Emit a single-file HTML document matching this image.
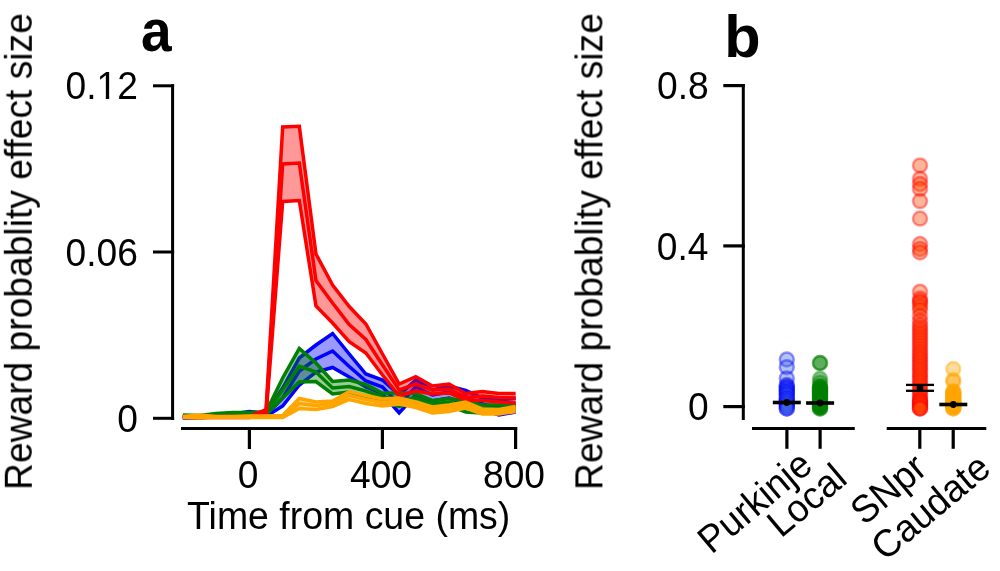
<!DOCTYPE html>
<html><head><meta charset="utf-8"><style>html,body{margin:0;padding:0;background:#fff;width:1000px;height:571px;overflow:hidden}body{position:relative}</style></head><body>
<svg width="1000" height="571" viewBox="0 0 1000 571" style="position:absolute;left:0;top:0">
<rect width="1000" height="571" fill="#fff"/>
<polygon points="182.85,417.00 199.49,417.00 216.12,414.50 232.76,414.00 249.40,411.50 266.04,413.50 282.68,388.00 299.31,358.00 315.95,345.00 332.59,333.50 349.23,354.00 365.86,374.00 382.50,380.00 399.14,395.00 415.77,380.00 432.41,390.00 449.05,386.00 465.69,390.50 482.32,398.00 498.96,400.00 515.60,398.00 515.60,412.00 498.96,415.00 482.32,410.00 465.69,404.00 449.05,398.00 432.41,401.00 415.77,395.00 399.14,413.00 382.50,394.00 365.86,387.00 349.23,377.00 332.59,367.50 315.95,372.00 299.31,385.00 282.68,406.00 266.04,416.50 249.40,414.50 232.76,416.00 216.12,416.50 199.49,418.00 182.85,418.00" fill="#0000ff" fill-opacity="0.4"/>
<polyline points="182.85,417.50 199.49,417.50 216.12,415.50 232.76,415.00 249.40,413.00 266.04,415.00 282.68,398.00 299.31,371.00 315.95,359.00 332.59,351.00 349.23,366.50 365.86,381.00 382.50,387.00 399.14,404.50 415.77,387.00 432.41,395.00 449.05,392.00 465.69,397.00 482.32,404.00 498.96,408.00 515.60,405.00" fill="none" stroke="#0000ff" stroke-width="3.5" stroke-linejoin="miter" stroke-miterlimit="4" stroke-linecap="butt"/>
<polyline points="182.85,417.00 199.49,417.00 216.12,414.50 232.76,414.00 249.40,411.50 266.04,413.50 282.68,388.00 299.31,358.00 315.95,345.00 332.59,333.50 349.23,354.00 365.86,374.00 382.50,380.00 399.14,395.00 415.77,380.00 432.41,390.00 449.05,386.00 465.69,390.50 482.32,398.00 498.96,400.00 515.60,398.00" fill="none" stroke="#0000ff" stroke-width="3.5" stroke-linejoin="miter" stroke-miterlimit="4" stroke-linecap="butt"/>
<polyline points="182.85,418.00 199.49,418.00 216.12,416.50 232.76,416.00 249.40,414.50 266.04,416.50 282.68,406.00 299.31,385.00 315.95,372.00 332.59,367.50 349.23,377.00 365.86,387.00 382.50,394.00 399.14,413.00 415.77,395.00 432.41,401.00 449.05,398.00 465.69,404.00 482.32,410.00 498.96,415.00 515.60,412.00" fill="none" stroke="#0000ff" stroke-width="3.5" stroke-linejoin="miter" stroke-miterlimit="4" stroke-linecap="butt"/>

<polygon points="182.85,415.00 199.49,415.50 216.12,413.50 232.76,412.50 249.40,412.50 266.04,412.00 282.68,378.00 299.31,348.50 315.95,363.00 332.59,381.50 349.23,380.00 365.86,384.50 382.50,393.00 399.14,393.00 415.77,393.50 432.41,400.50 449.05,398.50 465.69,401.00 482.32,405.00 498.96,405.00 515.60,404.00 515.60,409.00 498.96,412.00 482.32,413.00 465.69,412.00 449.05,405.50 432.41,407.50 415.77,402.00 399.14,406.50 382.50,401.00 365.86,397.00 349.23,392.00 332.59,394.00 315.95,381.50 299.31,382.00 282.68,398.00 266.04,414.50 249.40,414.50 232.76,414.50 216.12,416.00 199.49,417.50 182.85,417.00" fill="#008000" fill-opacity="0.4"/>
<polyline points="182.85,416.00 199.49,416.50 216.12,414.50 232.76,413.50 249.40,413.50 266.04,413.00 282.68,390.00 299.31,366.00 315.95,372.00 332.59,388.00 349.23,386.50 365.86,391.00 382.50,397.00 399.14,400.00 415.77,398.00 432.41,404.00 449.05,402.00 465.69,406.50 482.32,409.00 498.96,408.50 515.60,406.50" fill="none" stroke="#008000" stroke-width="3.5" stroke-linejoin="miter" stroke-miterlimit="4" stroke-linecap="butt"/>
<polyline points="182.85,415.00 199.49,415.50 216.12,413.50 232.76,412.50 249.40,412.50 266.04,412.00 282.68,378.00 299.31,348.50 315.95,363.00 332.59,381.50 349.23,380.00 365.86,384.50 382.50,393.00 399.14,393.00 415.77,393.50 432.41,400.50 449.05,398.50 465.69,401.00 482.32,405.00 498.96,405.00 515.60,404.00" fill="none" stroke="#008000" stroke-width="3.5" stroke-linejoin="miter" stroke-miterlimit="4" stroke-linecap="butt"/>
<polyline points="182.85,417.00 199.49,417.50 216.12,416.00 232.76,414.50 249.40,414.50 266.04,414.50 282.68,398.00 299.31,382.00 315.95,381.50 332.59,394.00 349.23,392.00 365.86,397.00 382.50,401.00 399.14,406.50 415.77,402.00 432.41,407.50 449.05,405.50 465.69,412.00 482.32,413.00 498.96,412.00 515.60,409.00" fill="none" stroke="#008000" stroke-width="3.5" stroke-linejoin="miter" stroke-miterlimit="4" stroke-linecap="butt"/>

<polygon points="182.85,416.50 199.49,416.50 216.12,416.50 232.76,416.50 249.40,416.50 266.04,409.50 282.68,127.00 299.31,126.30 315.95,254.00 332.59,285.00 349.23,306.50 365.86,324.00 382.50,354.00 399.14,384.00 415.77,376.60 432.41,386.00 449.05,384.00 465.69,393.50 482.32,391.50 498.96,393.50 515.60,393.50 515.60,403.00 498.96,402.00 482.32,400.50 465.69,400.00 449.05,393.00 432.41,394.00 415.77,391.00 399.14,396.00 382.50,375.00 365.86,353.00 349.23,341.70 332.59,323.00 315.95,306.00 299.31,200.50 282.68,201.50 266.04,415.50 249.40,417.50 232.76,417.50 216.12,417.50 199.49,417.50 182.85,417.50" fill="#ff0000" fill-opacity="0.4"/>
<polyline points="182.85,417.00 199.49,417.00 216.12,417.00 232.76,417.00 249.40,417.00 266.04,412.50 282.68,164.00 299.31,163.00 315.95,280.50 332.59,303.00 349.23,324.50 365.86,339.50 382.50,365.00 399.14,390.00 415.77,384.00 432.41,390.00 449.05,389.00 465.69,397.50 482.32,396.00 498.96,397.50 515.60,398.00" fill="none" stroke="#ff0000" stroke-width="3.5" stroke-linejoin="miter" stroke-miterlimit="4" stroke-linecap="butt"/>
<polyline points="182.85,416.50 199.49,416.50 216.12,416.50 232.76,416.50 249.40,416.50 266.04,409.50 282.68,127.00 299.31,126.30 315.95,254.00 332.59,285.00 349.23,306.50 365.86,324.00 382.50,354.00 399.14,384.00 415.77,376.60 432.41,386.00 449.05,384.00 465.69,393.50 482.32,391.50 498.96,393.50 515.60,393.50" fill="none" stroke="#ff0000" stroke-width="3.5" stroke-linejoin="miter" stroke-miterlimit="4" stroke-linecap="butt"/>
<polyline points="182.85,417.50 199.49,417.50 216.12,417.50 232.76,417.50 249.40,417.50 266.04,415.50 282.68,201.50 299.31,200.50 315.95,306.00 332.59,323.00 349.23,341.70 365.86,353.00 382.50,375.00 399.14,396.00 415.77,391.00 432.41,394.00 449.05,393.00 465.69,400.00 482.32,400.50 498.96,402.00 515.60,403.00" fill="none" stroke="#ff0000" stroke-width="3.5" stroke-linejoin="miter" stroke-miterlimit="4" stroke-linecap="butt"/>

<polygon points="182.85,416.50 199.49,415.00 216.12,416.50 232.76,416.50 249.40,416.00 266.04,416.00 282.68,415.50 299.31,398.50 315.95,402.00 332.59,401.00 349.23,391.50 365.86,395.50 382.50,399.00 399.14,398.00 415.77,402.00 432.41,407.00 449.05,405.00 465.69,402.00 482.32,409.00 498.96,409.50 515.60,406.50 515.60,411.50 498.96,414.00 482.32,414.00 465.69,408.00 449.05,411.50 432.41,413.00 415.77,407.50 399.14,404.00 382.50,406.00 365.86,403.50 349.23,399.50 332.59,406.50 315.95,409.50 299.31,408.50 282.68,417.50 266.04,417.50 249.40,417.50 232.76,417.50 216.12,417.50 199.49,418.00 182.85,417.50" fill="#ffa500" fill-opacity="0.4"/>
<polyline points="182.85,417.00 199.49,416.50 216.12,417.00 232.76,417.00 249.40,416.50 266.04,416.50 282.68,416.50 299.31,403.50 315.95,405.50 332.59,403.50 349.23,395.50 365.86,399.50 382.50,402.50 399.14,401.00 415.77,405.00 432.41,410.00 449.05,408.00 465.69,405.00 482.32,411.00 498.96,411.50 515.60,409.00" fill="none" stroke="#ffa500" stroke-width="3.5" stroke-linejoin="miter" stroke-miterlimit="4" stroke-linecap="butt"/>
<polyline points="182.85,416.50 199.49,415.00 216.12,416.50 232.76,416.50 249.40,416.00 266.04,416.00 282.68,415.50 299.31,398.50 315.95,402.00 332.59,401.00 349.23,391.50 365.86,395.50 382.50,399.00 399.14,398.00 415.77,402.00 432.41,407.00 449.05,405.00 465.69,402.00 482.32,409.00 498.96,409.50 515.60,406.50" fill="none" stroke="#ffa500" stroke-width="3.5" stroke-linejoin="miter" stroke-miterlimit="4" stroke-linecap="butt"/>
<polyline points="182.85,417.50 199.49,418.00 216.12,417.50 232.76,417.50 249.40,417.50 266.04,417.50 282.68,417.50 299.31,408.50 315.95,409.50 332.59,406.50 349.23,399.50 365.86,403.50 382.50,406.00 399.14,404.00 415.77,407.50 432.41,413.00 449.05,411.50 465.69,408.00 482.32,414.00 498.96,414.00 515.60,411.50" fill="none" stroke="#ffa500" stroke-width="3.5" stroke-linejoin="miter" stroke-miterlimit="4" stroke-linecap="butt"/>

<line x1="172.6" y1="84.2" x2="172.6" y2="420" stroke="#000" stroke-width="3"/>
<line x1="153" y1="85.8" x2="174.1" y2="85.8" stroke="#000" stroke-width="3"/>
<line x1="153" y1="252.0" x2="174.1" y2="252.0" stroke="#000" stroke-width="3"/>
<line x1="153" y1="418.3" x2="174.1" y2="418.3" stroke="#000" stroke-width="3"/>
<line x1="181" y1="428.5" x2="517.2" y2="428.5" stroke="#000" stroke-width="3"/>
<line x1="249.4" y1="427" x2="249.4" y2="449" stroke="#000" stroke-width="3.2"/>
<line x1="382.4" y1="427" x2="382.4" y2="449" stroke="#000" stroke-width="3.2"/>
<line x1="515.6" y1="427" x2="515.6" y2="449" stroke="#000" stroke-width="3.2"/>
<line x1="743.3" y1="84" x2="743.3" y2="420" stroke="#000" stroke-width="3"/>
<line x1="723.3" y1="85.6" x2="744.8" y2="85.6" stroke="#000" stroke-width="3.2"/>
<line x1="723.3" y1="245.9" x2="744.8" y2="245.9" stroke="#000" stroke-width="3.2"/>
<line x1="723.3" y1="406.6" x2="744.8" y2="406.6" stroke="#000" stroke-width="3.2"/>
<line x1="752" y1="428.5" x2="854.8" y2="428.5" stroke="#000" stroke-width="3"/>
<line x1="886.7" y1="428.5" x2="986.3" y2="428.5" stroke="#000" stroke-width="3"/>
<line x1="786.9" y1="427" x2="786.9" y2="448.8" stroke="#000" stroke-width="3.2"/>
<line x1="820.1" y1="427" x2="820.1" y2="448.8" stroke="#000" stroke-width="3.2"/>
<line x1="919.8" y1="427" x2="919.8" y2="448.8" stroke="#000" stroke-width="3.2"/>
<line x1="953.2" y1="427" x2="953.2" y2="448.8" stroke="#000" stroke-width="3.2"/>
<circle cx="786.8" cy="359.50" r="7.0" fill="#4169e1" fill-opacity="0.4" stroke="#0000ff" stroke-opacity="0.4" stroke-width="2.5"/>
<circle cx="786.8" cy="367.20" r="7.0" fill="#4169e1" fill-opacity="0.4" stroke="#0000ff" stroke-opacity="0.4" stroke-width="2.5"/>
<circle cx="786.8" cy="378.40" r="7.0" fill="#4169e1" fill-opacity="0.4" stroke="#0000ff" stroke-opacity="0.4" stroke-width="2.5"/>
<circle cx="786.8" cy="385.00" r="7.0" fill="#4169e1" fill-opacity="0.4" stroke="#0000ff" stroke-opacity="0.4" stroke-width="2.5"/>
<circle cx="786.8" cy="386.38" r="7.0" fill="#4169e1" fill-opacity="0.4" stroke="#0000ff" stroke-opacity="0.4" stroke-width="2.5"/>
<circle cx="786.8" cy="387.75" r="7.0" fill="#4169e1" fill-opacity="0.4" stroke="#0000ff" stroke-opacity="0.4" stroke-width="2.5"/>
<circle cx="786.8" cy="389.12" r="7.0" fill="#4169e1" fill-opacity="0.4" stroke="#0000ff" stroke-opacity="0.4" stroke-width="2.5"/>
<circle cx="786.8" cy="390.50" r="7.0" fill="#4169e1" fill-opacity="0.4" stroke="#0000ff" stroke-opacity="0.4" stroke-width="2.5"/>
<circle cx="786.8" cy="391.88" r="7.0" fill="#4169e1" fill-opacity="0.4" stroke="#0000ff" stroke-opacity="0.4" stroke-width="2.5"/>
<circle cx="786.8" cy="393.25" r="7.0" fill="#4169e1" fill-opacity="0.4" stroke="#0000ff" stroke-opacity="0.4" stroke-width="2.5"/>
<circle cx="786.8" cy="394.62" r="7.0" fill="#4169e1" fill-opacity="0.4" stroke="#0000ff" stroke-opacity="0.4" stroke-width="2.5"/>
<circle cx="786.8" cy="396.00" r="7.0" fill="#4169e1" fill-opacity="0.4" stroke="#0000ff" stroke-opacity="0.4" stroke-width="2.5"/>
<circle cx="786.8" cy="398.50" r="7.0" fill="#4169e1" fill-opacity="0.4" stroke="#0000ff" stroke-opacity="0.4" stroke-width="2.5"/>
<circle cx="786.8" cy="401.00" r="7.0" fill="#4169e1" fill-opacity="0.4" stroke="#0000ff" stroke-opacity="0.4" stroke-width="2.5"/>
<circle cx="786.8" cy="403.50" r="7.0" fill="#4169e1" fill-opacity="0.4" stroke="#0000ff" stroke-opacity="0.4" stroke-width="2.5"/>
<circle cx="786.8" cy="406.00" r="7.0" fill="#4169e1" fill-opacity="0.4" stroke="#0000ff" stroke-opacity="0.4" stroke-width="2.5"/>
<circle cx="786.8" cy="408.50" r="7.0" fill="#4169e1" fill-opacity="0.4" stroke="#0000ff" stroke-opacity="0.4" stroke-width="2.5"/>
<circle cx="786.8" cy="398.50" r="7.0" fill="#4169e1" fill-opacity="0.4" stroke="#0000ff" stroke-opacity="0.4" stroke-width="2.5"/>
<circle cx="786.8" cy="401.00" r="7.0" fill="#4169e1" fill-opacity="0.4" stroke="#0000ff" stroke-opacity="0.4" stroke-width="2.5"/>
<circle cx="786.8" cy="403.50" r="7.0" fill="#4169e1" fill-opacity="0.4" stroke="#0000ff" stroke-opacity="0.4" stroke-width="2.5"/>
<circle cx="786.8" cy="406.00" r="7.0" fill="#4169e1" fill-opacity="0.4" stroke="#0000ff" stroke-opacity="0.4" stroke-width="2.5"/>
<circle cx="786.8" cy="408.50" r="7.0" fill="#4169e1" fill-opacity="0.4" stroke="#0000ff" stroke-opacity="0.4" stroke-width="2.5"/>

<circle cx="820.0" cy="363.00" r="7.0" fill="#008000" fill-opacity="0.4" stroke="#008000" stroke-opacity="0.4" stroke-width="2.5"/>
<circle cx="820.0" cy="363.00" r="7.0" fill="#008000" fill-opacity="0.4" stroke="#008000" stroke-opacity="0.4" stroke-width="2.5"/>
<circle cx="820.0" cy="378.80" r="7.0" fill="#008000" fill-opacity="0.4" stroke="#008000" stroke-opacity="0.4" stroke-width="2.5"/>
<circle cx="820.0" cy="382.60" r="7.0" fill="#008000" fill-opacity="0.4" stroke="#008000" stroke-opacity="0.4" stroke-width="2.5"/>
<circle cx="820.0" cy="386.00" r="7.0" fill="#008000" fill-opacity="0.4" stroke="#008000" stroke-opacity="0.4" stroke-width="2.5"/>
<circle cx="820.0" cy="386.98" r="7.0" fill="#008000" fill-opacity="0.4" stroke="#008000" stroke-opacity="0.4" stroke-width="2.5"/>
<circle cx="820.0" cy="387.96" r="7.0" fill="#008000" fill-opacity="0.4" stroke="#008000" stroke-opacity="0.4" stroke-width="2.5"/>
<circle cx="820.0" cy="388.93" r="7.0" fill="#008000" fill-opacity="0.4" stroke="#008000" stroke-opacity="0.4" stroke-width="2.5"/>
<circle cx="820.0" cy="389.91" r="7.0" fill="#008000" fill-opacity="0.4" stroke="#008000" stroke-opacity="0.4" stroke-width="2.5"/>
<circle cx="820.0" cy="390.89" r="7.0" fill="#008000" fill-opacity="0.4" stroke="#008000" stroke-opacity="0.4" stroke-width="2.5"/>
<circle cx="820.0" cy="391.87" r="7.0" fill="#008000" fill-opacity="0.4" stroke="#008000" stroke-opacity="0.4" stroke-width="2.5"/>
<circle cx="820.0" cy="392.85" r="7.0" fill="#008000" fill-opacity="0.4" stroke="#008000" stroke-opacity="0.4" stroke-width="2.5"/>
<circle cx="820.0" cy="393.83" r="7.0" fill="#008000" fill-opacity="0.4" stroke="#008000" stroke-opacity="0.4" stroke-width="2.5"/>
<circle cx="820.0" cy="394.80" r="7.0" fill="#008000" fill-opacity="0.4" stroke="#008000" stroke-opacity="0.4" stroke-width="2.5"/>
<circle cx="820.0" cy="395.78" r="7.0" fill="#008000" fill-opacity="0.4" stroke="#008000" stroke-opacity="0.4" stroke-width="2.5"/>
<circle cx="820.0" cy="396.76" r="7.0" fill="#008000" fill-opacity="0.4" stroke="#008000" stroke-opacity="0.4" stroke-width="2.5"/>
<circle cx="820.0" cy="397.74" r="7.0" fill="#008000" fill-opacity="0.4" stroke="#008000" stroke-opacity="0.4" stroke-width="2.5"/>
<circle cx="820.0" cy="398.72" r="7.0" fill="#008000" fill-opacity="0.4" stroke="#008000" stroke-opacity="0.4" stroke-width="2.5"/>
<circle cx="820.0" cy="399.70" r="7.0" fill="#008000" fill-opacity="0.4" stroke="#008000" stroke-opacity="0.4" stroke-width="2.5"/>
<circle cx="820.0" cy="400.67" r="7.0" fill="#008000" fill-opacity="0.4" stroke="#008000" stroke-opacity="0.4" stroke-width="2.5"/>
<circle cx="820.0" cy="401.65" r="7.0" fill="#008000" fill-opacity="0.4" stroke="#008000" stroke-opacity="0.4" stroke-width="2.5"/>
<circle cx="820.0" cy="402.63" r="7.0" fill="#008000" fill-opacity="0.4" stroke="#008000" stroke-opacity="0.4" stroke-width="2.5"/>
<circle cx="820.0" cy="403.61" r="7.0" fill="#008000" fill-opacity="0.4" stroke="#008000" stroke-opacity="0.4" stroke-width="2.5"/>
<circle cx="820.0" cy="404.59" r="7.0" fill="#008000" fill-opacity="0.4" stroke="#008000" stroke-opacity="0.4" stroke-width="2.5"/>
<circle cx="820.0" cy="405.57" r="7.0" fill="#008000" fill-opacity="0.4" stroke="#008000" stroke-opacity="0.4" stroke-width="2.5"/>
<circle cx="820.0" cy="406.54" r="7.0" fill="#008000" fill-opacity="0.4" stroke="#008000" stroke-opacity="0.4" stroke-width="2.5"/>
<circle cx="820.0" cy="407.52" r="7.0" fill="#008000" fill-opacity="0.4" stroke="#008000" stroke-opacity="0.4" stroke-width="2.5"/>
<circle cx="820.0" cy="408.50" r="7.0" fill="#008000" fill-opacity="0.4" stroke="#008000" stroke-opacity="0.4" stroke-width="2.5"/>
<circle cx="820.0" cy="403.00" r="7.0" fill="#008000" fill-opacity="0.4" stroke="#008000" stroke-opacity="0.4" stroke-width="2.5"/>
<circle cx="820.0" cy="405.00" r="7.0" fill="#008000" fill-opacity="0.4" stroke="#008000" stroke-opacity="0.4" stroke-width="2.5"/>
<circle cx="820.0" cy="407.00" r="7.0" fill="#008000" fill-opacity="0.4" stroke="#008000" stroke-opacity="0.4" stroke-width="2.5"/>
<circle cx="820.0" cy="408.50" r="7.0" fill="#008000" fill-opacity="0.4" stroke="#008000" stroke-opacity="0.4" stroke-width="2.5"/>

<circle cx="920.0" cy="165.40" r="7.0" fill="#ff4500" fill-opacity="0.4" stroke="#ff0000" stroke-opacity="0.4" stroke-width="2.5"/>
<circle cx="920.0" cy="178.70" r="7.0" fill="#ff4500" fill-opacity="0.4" stroke="#ff0000" stroke-opacity="0.4" stroke-width="2.5"/>
<circle cx="920.0" cy="184.00" r="7.0" fill="#ff4500" fill-opacity="0.4" stroke="#ff0000" stroke-opacity="0.4" stroke-width="2.5"/>
<circle cx="920.0" cy="189.00" r="7.0" fill="#ff4500" fill-opacity="0.4" stroke="#ff0000" stroke-opacity="0.4" stroke-width="2.5"/>
<circle cx="920.0" cy="201.10" r="7.0" fill="#ff4500" fill-opacity="0.4" stroke="#ff0000" stroke-opacity="0.4" stroke-width="2.5"/>
<circle cx="920.0" cy="218.60" r="7.0" fill="#ff4500" fill-opacity="0.4" stroke="#ff0000" stroke-opacity="0.4" stroke-width="2.5"/>
<circle cx="920.0" cy="244.00" r="7.0" fill="#ff4500" fill-opacity="0.4" stroke="#ff0000" stroke-opacity="0.4" stroke-width="2.5"/>
<circle cx="920.0" cy="248.90" r="7.0" fill="#ff4500" fill-opacity="0.4" stroke="#ff0000" stroke-opacity="0.4" stroke-width="2.5"/>
<circle cx="920.0" cy="252.40" r="7.0" fill="#ff4500" fill-opacity="0.4" stroke="#ff0000" stroke-opacity="0.4" stroke-width="2.5"/>
<circle cx="920.0" cy="291.70" r="7.0" fill="#ff4500" fill-opacity="0.4" stroke="#ff0000" stroke-opacity="0.4" stroke-width="2.5"/>
<circle cx="920.0" cy="298.60" r="7.0" fill="#ff4500" fill-opacity="0.4" stroke="#ff0000" stroke-opacity="0.4" stroke-width="2.5"/>
<circle cx="920.0" cy="301.00" r="7.0" fill="#ff4500" fill-opacity="0.4" stroke="#ff0000" stroke-opacity="0.4" stroke-width="2.5"/>
<circle cx="920.0" cy="303.00" r="7.0" fill="#ff4500" fill-opacity="0.4" stroke="#ff0000" stroke-opacity="0.4" stroke-width="2.5"/>
<circle cx="920.0" cy="306.50" r="7.0" fill="#ff4500" fill-opacity="0.4" stroke="#ff0000" stroke-opacity="0.4" stroke-width="2.5"/>
<circle cx="920.0" cy="310.00" r="7.0" fill="#ff4500" fill-opacity="0.4" stroke="#ff0000" stroke-opacity="0.4" stroke-width="2.5"/>
<circle cx="920.0" cy="316.00" r="7.0" fill="#ff4500" fill-opacity="0.4" stroke="#ff0000" stroke-opacity="0.4" stroke-width="2.5"/>
<circle cx="920.0" cy="321.00" r="7.0" fill="#ff4500" fill-opacity="0.4" stroke="#ff0000" stroke-opacity="0.4" stroke-width="2.5"/>
<circle cx="920.0" cy="325.00" r="7.0" fill="#ff4500" fill-opacity="0.4" stroke="#ff0000" stroke-opacity="0.4" stroke-width="2.5"/>
<circle cx="920.0" cy="328.00" r="7.0" fill="#ff4500" fill-opacity="0.4" stroke="#ff0000" stroke-opacity="0.4" stroke-width="2.5"/>
<circle cx="920.0" cy="331.00" r="7.0" fill="#ff4500" fill-opacity="0.4" stroke="#ff0000" stroke-opacity="0.4" stroke-width="2.5"/>
<circle cx="920.0" cy="334.00" r="7.0" fill="#ff4500" fill-opacity="0.4" stroke="#ff0000" stroke-opacity="0.4" stroke-width="2.5"/>
<circle cx="920.0" cy="337.00" r="7.0" fill="#ff4500" fill-opacity="0.4" stroke="#ff0000" stroke-opacity="0.4" stroke-width="2.5"/>
<circle cx="920.0" cy="340.00" r="7.0" fill="#ff4500" fill-opacity="0.4" stroke="#ff0000" stroke-opacity="0.4" stroke-width="2.5"/>
<circle cx="920.0" cy="343.00" r="7.0" fill="#ff4500" fill-opacity="0.4" stroke="#ff0000" stroke-opacity="0.4" stroke-width="2.5"/>
<circle cx="920.0" cy="346.00" r="7.0" fill="#ff4500" fill-opacity="0.4" stroke="#ff0000" stroke-opacity="0.4" stroke-width="2.5"/>
<circle cx="920.0" cy="349.00" r="7.0" fill="#ff4500" fill-opacity="0.4" stroke="#ff0000" stroke-opacity="0.4" stroke-width="2.5"/>
<circle cx="920.0" cy="352.00" r="7.0" fill="#ff4500" fill-opacity="0.4" stroke="#ff0000" stroke-opacity="0.4" stroke-width="2.5"/>
<circle cx="920.0" cy="354.69" r="7.0" fill="#ff4500" fill-opacity="0.4" stroke="#ff0000" stroke-opacity="0.4" stroke-width="2.5"/>
<circle cx="920.0" cy="357.38" r="7.0" fill="#ff4500" fill-opacity="0.4" stroke="#ff0000" stroke-opacity="0.4" stroke-width="2.5"/>
<circle cx="920.0" cy="360.07" r="7.0" fill="#ff4500" fill-opacity="0.4" stroke="#ff0000" stroke-opacity="0.4" stroke-width="2.5"/>
<circle cx="920.0" cy="362.76" r="7.0" fill="#ff4500" fill-opacity="0.4" stroke="#ff0000" stroke-opacity="0.4" stroke-width="2.5"/>
<circle cx="920.0" cy="365.45" r="7.0" fill="#ff4500" fill-opacity="0.4" stroke="#ff0000" stroke-opacity="0.4" stroke-width="2.5"/>
<circle cx="920.0" cy="368.14" r="7.0" fill="#ff4500" fill-opacity="0.4" stroke="#ff0000" stroke-opacity="0.4" stroke-width="2.5"/>
<circle cx="920.0" cy="370.83" r="7.0" fill="#ff4500" fill-opacity="0.4" stroke="#ff0000" stroke-opacity="0.4" stroke-width="2.5"/>
<circle cx="920.0" cy="373.52" r="7.0" fill="#ff4500" fill-opacity="0.4" stroke="#ff0000" stroke-opacity="0.4" stroke-width="2.5"/>
<circle cx="920.0" cy="376.21" r="7.0" fill="#ff4500" fill-opacity="0.4" stroke="#ff0000" stroke-opacity="0.4" stroke-width="2.5"/>
<circle cx="920.0" cy="378.90" r="7.0" fill="#ff4500" fill-opacity="0.4" stroke="#ff0000" stroke-opacity="0.4" stroke-width="2.5"/>
<circle cx="920.0" cy="381.60" r="7.0" fill="#ff4500" fill-opacity="0.4" stroke="#ff0000" stroke-opacity="0.4" stroke-width="2.5"/>
<circle cx="920.0" cy="384.29" r="7.0" fill="#ff4500" fill-opacity="0.4" stroke="#ff0000" stroke-opacity="0.4" stroke-width="2.5"/>
<circle cx="920.0" cy="386.98" r="7.0" fill="#ff4500" fill-opacity="0.4" stroke="#ff0000" stroke-opacity="0.4" stroke-width="2.5"/>
<circle cx="920.0" cy="389.67" r="7.0" fill="#ff4500" fill-opacity="0.4" stroke="#ff0000" stroke-opacity="0.4" stroke-width="2.5"/>
<circle cx="920.0" cy="392.36" r="7.0" fill="#ff4500" fill-opacity="0.4" stroke="#ff0000" stroke-opacity="0.4" stroke-width="2.5"/>
<circle cx="920.0" cy="395.05" r="7.0" fill="#ff4500" fill-opacity="0.4" stroke="#ff0000" stroke-opacity="0.4" stroke-width="2.5"/>
<circle cx="920.0" cy="397.74" r="7.0" fill="#ff4500" fill-opacity="0.4" stroke="#ff0000" stroke-opacity="0.4" stroke-width="2.5"/>
<circle cx="920.0" cy="400.43" r="7.0" fill="#ff4500" fill-opacity="0.4" stroke="#ff0000" stroke-opacity="0.4" stroke-width="2.5"/>
<circle cx="920.0" cy="403.12" r="7.0" fill="#ff4500" fill-opacity="0.4" stroke="#ff0000" stroke-opacity="0.4" stroke-width="2.5"/>
<circle cx="920.0" cy="405.81" r="7.0" fill="#ff4500" fill-opacity="0.4" stroke="#ff0000" stroke-opacity="0.4" stroke-width="2.5"/>
<circle cx="920.0" cy="408.50" r="7.0" fill="#ff4500" fill-opacity="0.4" stroke="#ff0000" stroke-opacity="0.4" stroke-width="2.5"/>
<circle cx="920.0" cy="400.00" r="7.0" fill="#ff4500" fill-opacity="0.4" stroke="#ff0000" stroke-opacity="0.4" stroke-width="2.5"/>
<circle cx="920.0" cy="402.00" r="7.0" fill="#ff4500" fill-opacity="0.4" stroke="#ff0000" stroke-opacity="0.4" stroke-width="2.5"/>
<circle cx="920.0" cy="404.00" r="7.0" fill="#ff4500" fill-opacity="0.4" stroke="#ff0000" stroke-opacity="0.4" stroke-width="2.5"/>
<circle cx="920.0" cy="406.00" r="7.0" fill="#ff4500" fill-opacity="0.4" stroke="#ff0000" stroke-opacity="0.4" stroke-width="2.5"/>
<circle cx="920.0" cy="408.00" r="7.0" fill="#ff4500" fill-opacity="0.4" stroke="#ff0000" stroke-opacity="0.4" stroke-width="2.5"/>
<circle cx="920.0" cy="408.50" r="7.0" fill="#ff4500" fill-opacity="0.4" stroke="#ff0000" stroke-opacity="0.4" stroke-width="2.5"/>

<circle cx="953.3" cy="369.00" r="7.0" fill="#ffa500" fill-opacity="0.4" stroke="#ffa500" stroke-opacity="0.4" stroke-width="2.5"/>
<circle cx="953.3" cy="380.00" r="7.0" fill="#ffa500" fill-opacity="0.4" stroke="#ffa500" stroke-opacity="0.4" stroke-width="2.5"/>
<circle cx="953.3" cy="381.50" r="7.0" fill="#ffa500" fill-opacity="0.4" stroke="#ffa500" stroke-opacity="0.4" stroke-width="2.5"/>
<circle cx="953.3" cy="391.00" r="7.0" fill="#ffa500" fill-opacity="0.4" stroke="#ffa500" stroke-opacity="0.4" stroke-width="2.5"/>
<circle cx="953.3" cy="391.92" r="7.0" fill="#ffa500" fill-opacity="0.4" stroke="#ffa500" stroke-opacity="0.4" stroke-width="2.5"/>
<circle cx="953.3" cy="392.84" r="7.0" fill="#ffa500" fill-opacity="0.4" stroke="#ffa500" stroke-opacity="0.4" stroke-width="2.5"/>
<circle cx="953.3" cy="393.76" r="7.0" fill="#ffa500" fill-opacity="0.4" stroke="#ffa500" stroke-opacity="0.4" stroke-width="2.5"/>
<circle cx="953.3" cy="394.68" r="7.0" fill="#ffa500" fill-opacity="0.4" stroke="#ffa500" stroke-opacity="0.4" stroke-width="2.5"/>
<circle cx="953.3" cy="395.61" r="7.0" fill="#ffa500" fill-opacity="0.4" stroke="#ffa500" stroke-opacity="0.4" stroke-width="2.5"/>
<circle cx="953.3" cy="396.53" r="7.0" fill="#ffa500" fill-opacity="0.4" stroke="#ffa500" stroke-opacity="0.4" stroke-width="2.5"/>
<circle cx="953.3" cy="397.45" r="7.0" fill="#ffa500" fill-opacity="0.4" stroke="#ffa500" stroke-opacity="0.4" stroke-width="2.5"/>
<circle cx="953.3" cy="398.37" r="7.0" fill="#ffa500" fill-opacity="0.4" stroke="#ffa500" stroke-opacity="0.4" stroke-width="2.5"/>
<circle cx="953.3" cy="399.29" r="7.0" fill="#ffa500" fill-opacity="0.4" stroke="#ffa500" stroke-opacity="0.4" stroke-width="2.5"/>
<circle cx="953.3" cy="400.21" r="7.0" fill="#ffa500" fill-opacity="0.4" stroke="#ffa500" stroke-opacity="0.4" stroke-width="2.5"/>
<circle cx="953.3" cy="401.13" r="7.0" fill="#ffa500" fill-opacity="0.4" stroke="#ffa500" stroke-opacity="0.4" stroke-width="2.5"/>
<circle cx="953.3" cy="402.05" r="7.0" fill="#ffa500" fill-opacity="0.4" stroke="#ffa500" stroke-opacity="0.4" stroke-width="2.5"/>
<circle cx="953.3" cy="402.97" r="7.0" fill="#ffa500" fill-opacity="0.4" stroke="#ffa500" stroke-opacity="0.4" stroke-width="2.5"/>
<circle cx="953.3" cy="403.89" r="7.0" fill="#ffa500" fill-opacity="0.4" stroke="#ffa500" stroke-opacity="0.4" stroke-width="2.5"/>
<circle cx="953.3" cy="404.82" r="7.0" fill="#ffa500" fill-opacity="0.4" stroke="#ffa500" stroke-opacity="0.4" stroke-width="2.5"/>
<circle cx="953.3" cy="405.74" r="7.0" fill="#ffa500" fill-opacity="0.4" stroke="#ffa500" stroke-opacity="0.4" stroke-width="2.5"/>
<circle cx="953.3" cy="406.66" r="7.0" fill="#ffa500" fill-opacity="0.4" stroke="#ffa500" stroke-opacity="0.4" stroke-width="2.5"/>
<circle cx="953.3" cy="407.58" r="7.0" fill="#ffa500" fill-opacity="0.4" stroke="#ffa500" stroke-opacity="0.4" stroke-width="2.5"/>
<circle cx="953.3" cy="408.50" r="7.0" fill="#ffa500" fill-opacity="0.4" stroke="#ffa500" stroke-opacity="0.4" stroke-width="2.5"/>
<circle cx="953.3" cy="403.00" r="7.0" fill="#ffa500" fill-opacity="0.4" stroke="#ffa500" stroke-opacity="0.4" stroke-width="2.5"/>
<circle cx="953.3" cy="405.00" r="7.0" fill="#ffa500" fill-opacity="0.4" stroke="#ffa500" stroke-opacity="0.4" stroke-width="2.5"/>
<circle cx="953.3" cy="407.00" r="7.0" fill="#ffa500" fill-opacity="0.4" stroke="#ffa500" stroke-opacity="0.4" stroke-width="2.5"/>
<circle cx="953.3" cy="408.50" r="7.0" fill="#ffa500" fill-opacity="0.4" stroke="#ffa500" stroke-opacity="0.4" stroke-width="2.5"/>

<line x1="772.8" y1="402.5" x2="800.8" y2="402.5" stroke="#000" stroke-width="3.6"/>
<circle cx="786.8" cy="402.5" r="3.4" fill="#000"/>

<line x1="806.1" y1="403" x2="834.1" y2="403" stroke="#000" stroke-width="3.6"/>
<circle cx="820.1" cy="403" r="3.4" fill="#000"/>

<line x1="939.3" y1="404.5" x2="967.3" y2="404.5" stroke="#000" stroke-width="3.6"/>
<circle cx="953.3" cy="404.5" r="3.4" fill="#000"/>

<line x1="906" y1="384.9" x2="934" y2="384.9" stroke="#000" stroke-width="2.3"/>
<line x1="906" y1="390.8" x2="934" y2="390.8" stroke="#000" stroke-width="2.3"/>
<rect x="917.1" y="385" width="5.8" height="5.8" fill="#000"/>
<circle cx="920" cy="388" r="3.4" fill="#000"/>
<g style="opacity:0.999">
<text transform="translate(137.9,99.4) rotate(0) scale(1.0,1.035)" font-family='"Liberation Sans", sans-serif' font-size="37.2" font-weight="normal" text-anchor="end">0.12</text>
<text transform="translate(137.9,265.6) rotate(0) scale(1.0,1.035)" font-family='"Liberation Sans", sans-serif' font-size="37.2" font-weight="normal" text-anchor="end">0.06</text>
<text transform="translate(137.9,431.9) rotate(0) scale(1.0,1.035)" font-family='"Liberation Sans", sans-serif' font-size="37.2" font-weight="normal" text-anchor="end">0</text>
<text transform="translate(248.0,488.4) rotate(0) scale(1.0,1.035)" font-family='"Liberation Sans", sans-serif' font-size="37.2" font-weight="normal" text-anchor="middle">0</text>
<text transform="translate(381.0,488.4) rotate(0) scale(1.0,1.035)" font-family='"Liberation Sans", sans-serif' font-size="37.2" font-weight="normal" text-anchor="middle">400</text>
<text transform="translate(514.0,488.4) rotate(0) scale(1.0,1.035)" font-family='"Liberation Sans", sans-serif' font-size="37.2" font-weight="normal" text-anchor="middle">800</text>
<text transform="translate(348.7,528.5) rotate(0) scale(1.0,1.035)" font-family='"Liberation Sans", sans-serif' font-size="37.45" font-weight="normal" text-anchor="middle">Time from cue (ms)</text>
<text transform="translate(708.8,99.2) rotate(0) scale(1.0,1.035)" font-family='"Liberation Sans", sans-serif' font-size="37.2" font-weight="normal" text-anchor="end">0.8</text>
<text transform="translate(708.5,259.5) rotate(0) scale(1.0,1.035)" font-family='"Liberation Sans", sans-serif' font-size="37.2" font-weight="normal" text-anchor="end">0.4</text>
<text transform="translate(708.7,420.2) rotate(0) scale(1.0,1.035)" font-family='"Liberation Sans", sans-serif' font-size="37.2" font-weight="normal" text-anchor="end">0</text>
<text transform="translate(32,251.5) rotate(-90) scale(1.0,1.035)" font-family='"Liberation Sans", sans-serif' font-size="37.2" font-weight="normal" text-anchor="middle">Reward probablity effect size</text>
<text transform="translate(602.6,251.5) rotate(-90) scale(1.0,1.035)" font-family='"Liberation Sans", sans-serif' font-size="37.2" font-weight="normal" text-anchor="middle">Reward probablity effect size</text>
<text transform="translate(141.0,51.4) rotate(0) scale(0.92,1.0)" font-family='"Liberation Sans", sans-serif' font-size="59.9" font-weight="bold" text-anchor="start">a</text>
<text transform="translate(724.2,56.9) rotate(0) scale(1.0,1.0)" font-family='"Liberation Sans", sans-serif' font-size="59.5" font-weight="bold" text-anchor="start">b</text>
<text transform="translate(814.5,468.7) rotate(-40) scale(1.0,1.035)" font-family='"Liberation Sans", sans-serif' font-size="37.2" font-weight="normal" text-anchor="end">Purkinje</text>
<text transform="translate(849.1,481.6) rotate(-40) scale(1.0,1.035)" font-family='"Liberation Sans", sans-serif' font-size="37.2" font-weight="normal" text-anchor="end">Local</text>
<text transform="translate(929.1,471.7) rotate(-40) scale(1.0,1.035)" font-family='"Liberation Sans", sans-serif' font-size="37.2" font-weight="normal" text-anchor="end">SNpr</text>
<text transform="translate(992.8,471.7) rotate(-40) scale(1.0,1.035)" font-family='"Liberation Sans", sans-serif' font-size="37.2" font-weight="normal" text-anchor="end">Caudate</text>
</g>
<rect x="98.8" y="95.6" width="7.0" height="4.6" fill="#fff"/>
<rect x="109.2" y="95.6" width="6.9" height="4.6" fill="#fff"/>
</svg>
</body></html>
